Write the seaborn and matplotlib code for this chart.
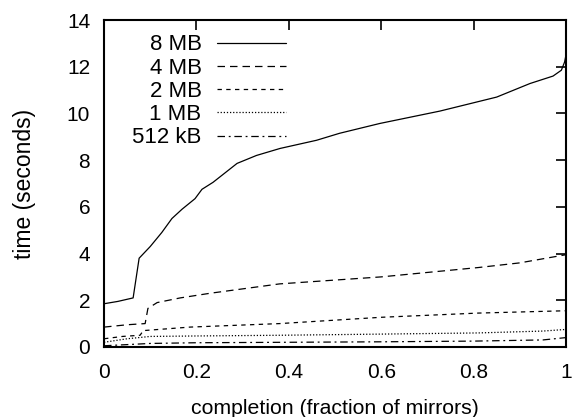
import pandas as pd
import numpy as np
import matplotlib
matplotlib.use("Agg")
import matplotlib.pyplot as plt
import seaborn as sns

# ---- data ----
x_8mb = [0.0, 0.03, 0.063, 0.076, 0.1, 0.125, 0.147, 0.169, 0.197, 0.212, 0.236,
         0.288, 0.33, 0.381, 0.46, 0.51, 0.597, 0.727, 0.85, 0.922, 0.972,
         0.99, 0.997, 1.0]
t_8mb = [1.85, 1.95, 2.1, 3.8, 4.3, 4.9, 5.5, 5.9, 6.35, 6.75, 7.05,
         7.86, 8.2, 8.5, 8.85, 9.15, 9.57, 10.1, 10.7, 11.28, 11.6,
         11.85, 12.2, 12.5]

x_4mb = [0.0, 0.05, 0.089, 0.095, 0.115, 0.165, 0.23, 0.38, 0.6, 0.81, 0.9, 1.0]
t_4mb = [0.85, 0.95, 1.0, 1.65, 1.9, 2.1, 2.3, 2.7, 3.0, 3.4, 3.6, 3.95]

x_2mb = [0.0, 0.04, 0.078, 0.085, 0.186, 0.38, 0.6, 0.81, 1.0]
t_2mb = [0.35, 0.45, 0.5, 0.7, 0.85, 1.0, 1.27, 1.45, 1.55]

x_1mb = [0.0, 0.05, 0.1, 0.2, 0.38, 0.6, 0.81, 0.95, 1.0]
t_1mb = [0.2, 0.35, 0.45, 0.47, 0.5, 0.55, 0.6, 0.68, 0.75]

x_512 = [0.0, 0.05, 0.1, 0.2, 0.4, 0.6, 0.8, 0.95, 1.0]
t_512 = [0.05, 0.1, 0.15, 0.18, 0.2, 0.22, 0.25, 0.3, 0.4]

series = ["8 MB", "4 MB", "2 MB", "1 MB", "512 kB"]

frames = []
for name, xs, ts in zip(series,
                        [x_8mb, x_4mb, x_2mb, x_1mb, x_512],
                        [t_8mb, t_4mb, t_2mb, t_1mb, t_512]):
    frames.append(pd.DataFrame({"completion": xs, "time": ts, "size": name}))
df = pd.concat(frames, ignore_index=True)

# ---- plot ----
sns.set_style("white")
plt.rcParams['font.family'] = ['Liberation Sans', 'DejaVu Sans']
plt.rcParams['text.color'] = 'black'
plt.rcParams['axes.labelcolor'] = 'black'
plt.rcParams['xtick.color'] = 'black'
plt.rcParams['ytick.color'] = 'black'

fig = plt.figure(figsize=(5.76, 4.17), dpi=100)
ax = fig.add_axes([0.1806, 0.168, 0.802, 0.784])

dash_map = {
    "8 MB": "",
    "4 MB": (6, 4),
    "2 MB": (3.5, 3.5),
    "1 MB": (1, 1.5),
    "512 kB": (6, 3, 1.5, 3),
}
sns.lineplot(data=df, x="completion", y="time", hue="size", style="size",
             hue_order=series, style_order=series,
             palette=["black"] * 5, dashes=dash_map, linewidth=0.9,
             estimator=None, sort=False, ax=ax)

ax.set_xlim(0, 1)
ax.set_ylim(0, 14)
ax.set_xticks([0, 0.2, 0.4, 0.6, 0.8, 1])
ax.set_xticklabels(["0", "0.2", "0.4", "0.6", "0.8", "1"])
ax.set_yticks(range(0, 15, 2))
ax.tick_params(direction="in", length=7, width=1.2, top=True, right=True,
               labelsize=15, colors="black")
ax.tick_params(axis="y", pad=10)
ax.tick_params(axis="x", pad=11.5)
for s in ax.spines.values():
    s.set_linewidth(1.5)
    s.set_color("black")

ax.set_xlabel("completion (fraction of mirrors)", fontsize=15.3, labelpad=12,
              color="black")
ax.set_ylabel("time (seconds)", fontsize=16.5, labelpad=22, color="black")

leg = ax.legend(loc="upper right", bbox_to_anchor=(0.394, 0.956), frameon=False,
                markerfirst=False, fontsize=16, handlelength=3.1,
                labelspacing=0.1, handletextpad=0.7, borderaxespad=0.0,
                borderpad=0.0)
for t in leg.get_texts():
    t.set_ha("right")
    t.set_color("black")
leg._legend_box.align = "right"

fig.savefig("out.png", dpi=100)
